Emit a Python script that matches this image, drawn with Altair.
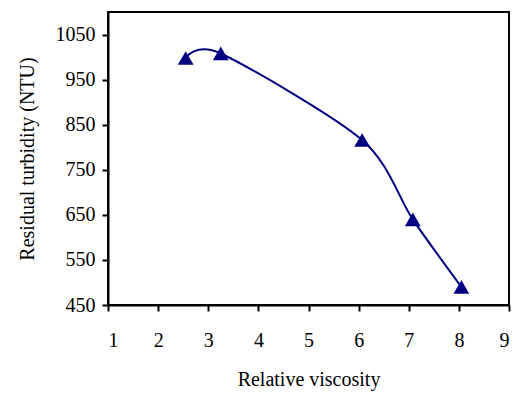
import altair as alt
import pandas as pd

viscosity = [2.55, 3.25, 6.07, 7.08, 8.05]
turbidity = [998, 1008, 816, 640, 490]

df = pd.DataFrame({"x": viscosity, "y": turbidity})

x_ticks = [1, 2, 3, 4, 5, 6, 7, 8, 9]
y_ticks = [450, 550, 650, 750, 850, 950, 1050]

FONT = "Liberation Serif"
COLOR = "#000080"

base = alt.Chart(df).encode(
    x=alt.X("x:Q", scale=alt.Scale(domain=[1, 9], nice=False, zero=False),
            axis=alt.Axis(title="Relative viscosity", values=x_ticks, format="d",
                          grid=False, tickSize=6, labelPadding=19, titlePadding=19)),
    y=alt.Y("y:Q", scale=alt.Scale(domain=[450, 1100], nice=False, zero=False),
            axis=alt.Axis(title="Residual turbidity (NTU)", values=y_ticks, format="d",
                          grid=False, tickSize=6, labelPadding=7, titlePadding=18)),
)

line = base.mark_line(color=COLOR, strokeWidth=2, interpolate="cardinal", tension=0.15)
pts = base.mark_point(shape="triangle-up", filled=True, color=COLOR, size=250, opacity=1)

chart = (line + pts).properties(
    width=401, height=293,
    padding={"left": 17, "top": 12, "right": 15, "bottom": 5},
).configure_view(
    stroke="black", strokeWidth=2
).configure_axis(
    domainColor="black", domainWidth=2, tickColor="black", tickWidth=2,
    labelFont=FONT, titleFont=FONT, labelFontSize=20, titleFontSize=20,
    titleFontWeight="normal", labelColor="black", titleColor="black",
)

chart.save("out.html", embed_options={"renderer": "svg", "actions": False})
